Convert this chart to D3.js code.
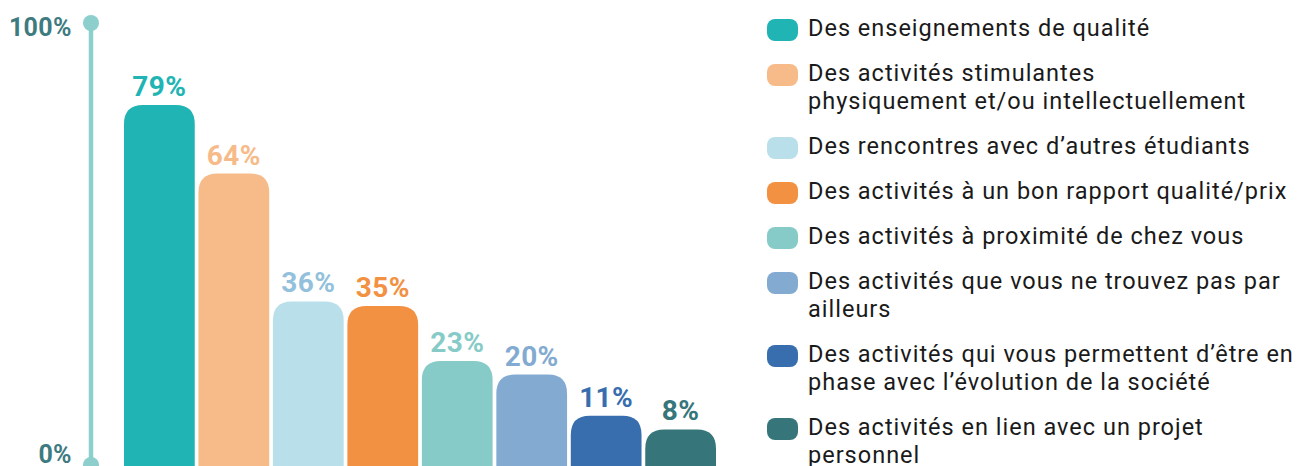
<!DOCTYPE html>
<html>
<head>
<meta charset="utf-8">
<script src="https://cdn.jsdelivr.net/npm/d3@7"></script>
<style>
  body { margin: 0; background: #ffffff; }
  svg { display: block; font-family: Roboto, "Noto Sans", sans-serif; }
</style>
</head>
<body>
<svg id="chart"></svg>
<script>
// chart values
var categories = [
  "Des enseignements de qualité",
  "Des activités stimulantes\nphysiquement et/ou intellectuellement",
  "Des rencontres avec d’autres étudiants",
  "Des activités à un bon rapport qualité/prix",
  "Des activités à proximité de chez vous",
  "Des activités que vous ne trouvez pas par\nailleurs",
  "Des activités qui vous permettent d’être en\nphase avec l’évolution de la société",
  "Des activités en lien avec un projet\npersonnel"
];
var values = [79, 64, 36, 35, 23, 20, 11, 8];
var barColors = ["#20b4b4", "#f7bb8a", "#b8dfea", "#f39142", "#87cbc8", "#83abd1", "#386eae", "#36767b"];
var labelColors = ["#20b4b4", "#f7bb8a", "#93c1dc", "#f39142", "#87cbc8", "#83abd1", "#386eae", "#36767b"];
var axisTicks = [0, 100];

var dimensions = { width: 1304, height: 466 };

var svg = d3.select("#chart")
            .attr("width", dimensions.width)
            .attr("height", dimensions.height);

var xScale = d3.scaleBand()
            .domain(d3.range(values.length))
            .range([124, 716])
            .paddingInner(0.05);

var yScale = d3.scaleLinear()
            .domain([0, 100])
            .range([466, 9]);

// decorative axis on the left
var axisScale = d3.scaleLinear()
            .domain([0, 100])
            .range([465, 23]);

var axisX = 91;

svg.append("line")
    .attr("x1", axisX).attr("x2", axisX)
    .attr("y1", axisScale(0)).attr("y2", axisScale(100))
    .attr("stroke", "#8ccfcc")
    .attr("stroke-width", 4.5);

svg.selectAll("circle.tick")
    .data(axisTicks)
    .enter()
    .append("circle")
    .attr("class", "tick")
    .attr("cx", axisX)
    .attr("cy", d => axisScale(d))
    .attr("r", 8)
    .attr("fill", "#8ccfcc");

svg.selectAll("text.tick")
    .data(axisTicks)
    .enter()
    .append("text")
    .attr("class", "tick")
    .attr("x", 72)
    .attr("y", d => d == 0 ? axisScale(d) - 2 : axisScale(d) + 13)
    .attr("text-anchor", "end")
    .attr("font-size", 25)
    .attr("font-weight", 700)
    .attr("letter-spacing", 0.4)
    .attr("fill", "#3d7b80")
    .text(d => d + "%");

// bars with rounded tops
var r = 19;
function barPath(i) {
    var x0 = xScale(i), x1 = x0 + xScale.bandwidth();
    var yt = yScale(values[i]), yb = yScale(0);
    return "M" + x0 + "," + yb +
           "V" + (yt + r) +
           "Q" + x0 + "," + yt + " " + (x0 + r) + "," + yt +
           "H" + (x1 - r) +
           "Q" + x1 + "," + yt + " " + x1 + "," + (yt + r) +
           "V" + yb + "Z";
}

svg.selectAll("path.bar")
    .data(values)
    .enter()
    .append("path")
    .attr("class", "bar")
    .attr("d", (d, i) => barPath(i))
    .attr("fill", (d, i) => barColors[i]);

svg.selectAll("text.value")
    .data(values)
    .enter()
    .append("text")
    .attr("class", "value")
    .attr("x", (d, i) => xScale(i) + xScale.bandwidth() / 2)
    .attr("y", d => yScale(d) - 9)
    .attr("text-anchor", "middle")
    .attr("font-size", 28)
    .attr("font-weight", 700)
    .attr("letter-spacing", 0.4)
    .attr("fill", (d, i) => labelColors[i])
    .text(d => d + "%");

// legend
var legendX = 767;
var textX = 808;
var lineHeight = 28;
var itemGap = 45;
var baseline = 36;

categories.forEach(function(cat, i) {
    var lines = cat.split("\n");
    var g = svg.append("g");

    g.append("rect")
        .attr("x", legendX)
        .attr("y", baseline - 17)
        .attr("width", 31)
        .attr("height", 22)
        .attr("rx", 8)
        .attr("fill", barColors[i]);

    var text = g.append("text")
        .attr("x", textX)
        .attr("y", baseline)
        .attr("font-size", 23.5)
        .attr("letter-spacing", 1.0)
        .attr("fill", "#1a1a1a");

    lines.forEach(function(l, j) {
        text.append("tspan")
            .attr("x", textX)
            .attr("dy", j == 0 ? 0 : lineHeight)
            .text(l);
    });

    baseline += (lines.length - 1) * lineHeight + itemGap;
});
</script>
</body>
</html>
